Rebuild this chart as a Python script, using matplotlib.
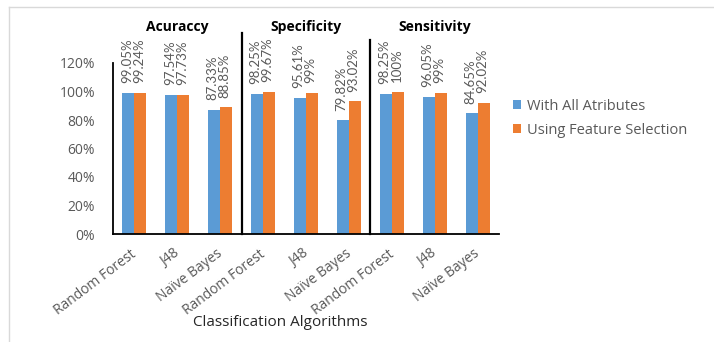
import matplotlib
matplotlib.use("Agg")
import matplotlib.pyplot as plt
from matplotlib.lines import Line2D
from matplotlib.transforms import blended_transform_factory, ScaledTranslation
import numpy as np

plt.rcParams['font.family'] = ['Open Sans', 'DejaVu Sans']

categories = ["Random Forest", "J48", "Naïve Bayes",
              "Random Forest", "J48", "Naïve Bayes",
              "Random Forest", "J48", "Naïve Bayes"]
groups = ["Acuraccy", "Specificity", "Sensitivity"]
all_attributes = [99.05, 97.54, 87.33, 98.25, 95.61, 79.82, 98.25, 96.05, 84.65]
feature_selection = [99.24, 97.73, 88.85, 99.67, 99, 93.02, 100, 99, 92.02]
series_names = ["With All Atributes", "Using Feature Selection"]
yticks = [0, 20, 40, 60, 80, 100, 120]

BLUE = "#5B9BD5"
ORANGE = "#ED7D31"
GRAY = "#595959"

W, H = 714, 342
fig = plt.figure(figsize=(W / 100, H / 100), dpi=100)
ax = fig.add_axes([113 / W, (H - 234) / H, (499 - 113) / W, (234 - 63) / H])

x = np.arange(len(categories))
bw = 0.28
b1 = ax.bar(x - bw / 2, all_attributes, bw, color=BLUE, label=series_names[0])
b2 = ax.bar(x + bw / 2, feature_selection, bw, color=ORANGE, label=series_names[1])

for bars, vals in ((b1, all_attributes), (b2, feature_selection)):
    for rect, v in zip(bars, vals):
        ax.annotate(f"{v:g}%", (rect.get_x() + rect.get_width() / 2, v),
                    xytext=(-1, 7), textcoords="offset points",
                    rotation=90, ha="center", va="bottom",
                    fontsize=9.5, color=GRAY, family=['Lato', 'DejaVu Sans'])

ax.set_xlim(-0.5, len(categories) - 0.5)
ax.set_ylim(0, 120)
ax.set_yticks(yticks)
ax.set_yticklabels([f"{t}%" for t in yticks], fontsize=10, color=GRAY)
ax.tick_params(axis="y", length=0, pad=13)
ax.set_xticks(x)
ax.set_xticklabels(categories, rotation=37, ha="right", va="top",
                   rotation_mode="anchor", fontsize=10, color=GRAY)
ax.tick_params(axis="x", length=0, pad=9)
shift = ScaledTranslation(-4 / 100, 0, fig.dpi_scale_trans)
for lbl in ax.get_xticklabels():
    lbl.set_transform(lbl.get_transform() + shift)
for s in ("top", "right"):
    ax.spines[s].set_visible(False)
ax.spines["left"].set_color("black")
ax.spines["bottom"].set_color("black")
ax.spines["left"].set_linewidth(1.3)
ax.spines["bottom"].set_linewidth(1.3)

# group separators
for sx, top in ((2.5, 141), (5.5, 136)):
    ax.add_line(Line2D([sx, sx], [0, top], color="black", lw=1.6, clip_on=False))

# group titles
tr = blended_transform_factory(ax.transData, fig.transFigure)
for i, g in enumerate(groups):
    ax.text(i * 3 + 1, (H - 27) / H, g, transform=tr, ha="center", va="center",
            fontsize=10, fontweight="bold", color="black")

fig.text(280 / W, (H - 323) / H, "Classification Algorithms", ha="center",
         va="center", fontsize=11, color="#262626")

leg = ax.legend(loc="upper left", bbox_to_anchor=(507 / W, (H - 93) / H),
                bbox_transform=fig.transFigure, frameon=False, fontsize=10.5,
                handlelength=0.55, handleheight=0.55, handletextpad=0.45,
                labelspacing=0.6, borderaxespad=0)
for t in leg.get_texts():
    t.set_color(GRAY)

# light frame
fig.add_artist(Line2D([9 / W, 1], [(H - 7) / H] * 2, color="#d9d9d9", lw=1,
                      transform=fig.transFigure))
fig.add_artist(Line2D([9 / W, 9 / W], [0, (H - 7) / H], color="#d9d9d9", lw=1,
                      transform=fig.transFigure))

fig.savefig("out.png", dpi=100)
